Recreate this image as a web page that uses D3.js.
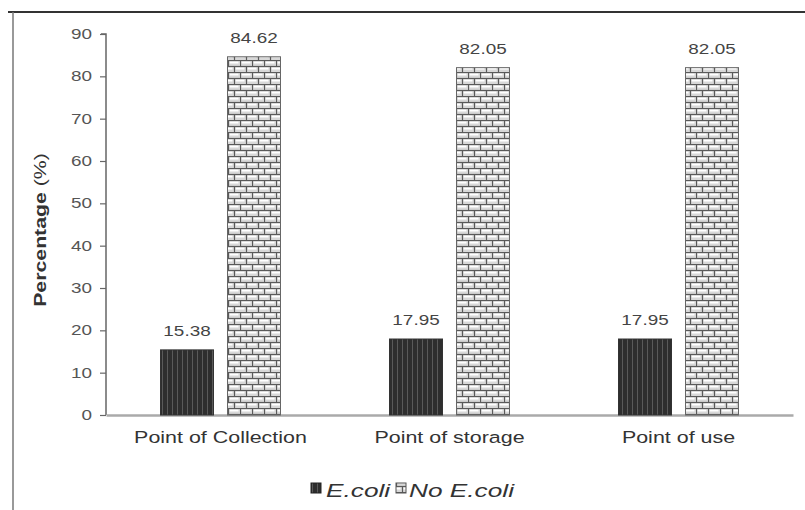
<!DOCTYPE html>
<html><head><meta charset="utf-8">
<script src="https://cdn.jsdelivr.net/npm/d3@7"></script>
<style>body{margin:0;background:#fff}svg{display:block}text{font-family:"Liberation Sans",Arial,sans-serif}</style>
</head><body>
<svg id="c" width="805" height="510"></svg>
<script>
const categories = ["Point of Collection", "Point of storage", "Point of use"];
const seriesNames = ["E.coli", "No E.coli"];
const ecoli = [15.38, 17.95, 17.95];
const noEcoli = [84.62, 82.05, 82.05];
const yTicks = [0, 10, 20, 30, 40, 50, 60, 70, 80, 90];

const SX = 1.35; // horizontal stretch of the reference text
const svg = d3.select("#c");
const defs = svg.append("defs");
// dark vertical stripes
const p1 = defs.append("pattern").attr("id","dark").attr("patternUnits","userSpaceOnUse").attr("width",5).attr("height",6);
p1.append("rect").attr("width",5).attr("height",6).attr("fill","#2e2e2e");
p1.append("line").attr("x1",2.5).attr("x2",2.5).attr("y1",0).attr("y2",6).attr("stroke","#5a5a5a").attr("stroke-width",1);
// brick pattern
const p2 = defs.append("pattern").attr("id","brick").attr("patternUnits","userSpaceOnUse").attr("width",12).attr("height",12);
p2.append("rect").attr("width",12).attr("height",12).attr("fill","#d8d8d8");
p2.append("rect").attr("x",1.5).attr("y",1.5).attr("width",9).attr("height",2).attr("fill","#fff");
p2.append("rect").attr("x",7.5).attr("y",7.5).attr("width",9).attr("height",2).attr("fill","#fff");
p2.append("rect").attr("x",-4.5).attr("y",7.5).attr("width",9).attr("height",2).attr("fill","#fff");
p2.append("line").attr("x1",0).attr("x2",12).attr("y1",0.5).attr("y2",0.5).attr("stroke","#5a5a5a").attr("stroke-width",1.2);
p2.append("line").attr("x1",0).attr("x2",12).attr("y1",6.5).attr("y2",6.5).attr("stroke","#5a5a5a").attr("stroke-width",1.2);
p2.append("line").attr("x1",0.5).attr("x2",0.5).attr("y1",0).attr("y2",6).attr("stroke","#5a5a5a").attr("stroke-width",1.2);
p2.append("line").attr("x1",6.5).attr("x2",6.5).attr("y1",6).attr("y2",12).attr("stroke","#5a5a5a").attr("stroke-width",1.2);

// frame
svg.append("line").attr("x1",8).attr("x2",805).attr("y1",12).attr("y2",12).attr("stroke","#333").attr("stroke-width",2);
svg.append("line").attr("x1",13).attr("x2",13).attr("y1",12).attr("y2",510).attr("stroke","#777").attr("stroke-width",1.5);

const pLeft = 106, pRight = 793, pTop = 34, pBottom = 415;
const x = d3.scaleBand().domain(categories).range([pLeft, pRight]).paddingInner(0).paddingOuter(0);
const y = d3.scaleLinear().domain([0, 90]).range([pBottom, pTop]);

function stretch(sel, sx){
  sel.each(function(){
    const t = d3.select(this);
    const xv = +(t.attr("x") || 0);
    t.attr("x", xv / sx).attr("transform", `scale(${sx},1)`);
  });
}

// y axis
const ya = svg.append("g").attr("transform",`translate(${pLeft},0)`)
  .call(d3.axisLeft(y).tickValues(yTicks).tickSize(6).tickPadding(8).tickFormat(d3.format("d")));
ya.select(".domain").attr("stroke","#666").attr("stroke-width",1.5).attr("d",`M-5,${pTop}H0V${pBottom}`);
ya.selectAll(".tick line").attr("stroke","#666").attr("stroke-width",1.2);
ya.selectAll(".tick text").attr("fill","#555").style("font-size","14px");
stretch(ya.selectAll(".tick text"), SX);

// x axis
const xa = svg.append("g").attr("transform",`translate(0,${pBottom})`)
  .call(d3.axisBottom(x).tickSize(0).tickPadding(16));
xa.select(".domain").attr("stroke","#aaa").attr("stroke-width",2.5);
xa.selectAll(".tick text").attr("fill","#333").style("font-size","16.5px");
stretch(xa.selectAll(".tick text"), 1.3);

const bw = 53, gap = 14;
const data = categories.map((c,i)=>({c, v:[ecoli[i], noEcoli[i]]}));
const fills = ["url(#dark)","url(#brick)"];
data.forEach(d=>{
  const cx = x(d.c) + x.bandwidth()/2;
  d.v.forEach((v,j)=>{
    const x0 = j===0 ? cx - gap/2 - bw : cx + gap/2;
    svg.append("rect").attr("x",x0).attr("y",y(v)).attr("width",bw).attr("height",pBottom - y(v))
      .attr("fill",fills[j]).attr("stroke", j===0?"#333":"#666").attr("stroke-width",1);
    svg.append("g").attr("transform",`translate(${x0 + bw/2},${y(v) - 14})`)
      .append("text").attr("text-anchor","middle").attr("transform",`scale(${SX},1)`)
      .attr("fill","#444").style("font-size","14px")
      .text(d3.format(".2f")(v));
  });
});

// y title
const yt = svg.append("text").attr("transform","translate(46,230) rotate(-90) scale(1.33,1)").attr("text-anchor","middle")
  .attr("fill","#333").style("font-size","16px");
yt.append("tspan").attr("font-weight","bold").text("Percentage ");
yt.append("tspan").text("(%)");

// legend
const lg = svg.append("g");
lg.append("rect").attr("x",311).attr("y",483).attr("width",10).attr("height",10).attr("fill","url(#dark)").attr("stroke","#222");
lg.append("g").attr("transform","translate(326,497)").append("text").attr("transform","scale(1.5,1)")
  .attr("fill","#333").style("font-size","17.5px").style("font-style","italic").text(seriesNames[0]);
lg.append("rect").attr("x",396).attr("y",483).attr("width",10).attr("height",10).attr("fill","url(#brick)").attr("stroke","#555");
lg.append("g").attr("transform","translate(409,497)").append("text").attr("transform","scale(1.5,1)")
  .attr("fill","#333").style("font-size","17.5px").style("font-style","italic").text(seriesNames[1]);
</script>
</body></html>
